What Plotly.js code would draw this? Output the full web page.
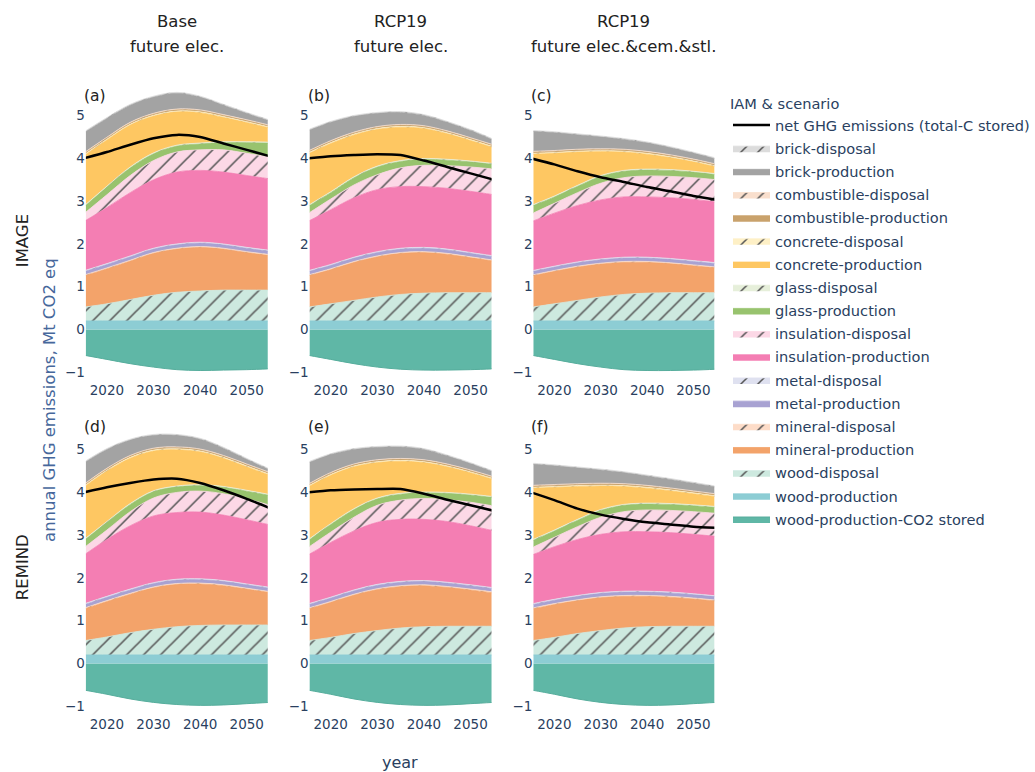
<!DOCTYPE html>
<html><head><meta charset="utf-8">
<script src="https://cdn.plot.ly/plotly-3.0.1.min.js"></script>
<style>body{margin:0;background:#fff}</style>
</head><body><div id="chart" style="width:1035px;height:772px"></div>
<script>
// ---------- DATA ----------
const years = [2015, 2020, 2025, 2030, 2035, 2040, 2045, 2050, 2055];
const panelLabels = ['(a)', '(b)', '(c)', '(d)', '(e)', '(f)'];
const scenarioLine1 = ['Base', 'RCP19', 'RCP19'];
const scenarioLine2 = ['future elec.', 'future elec.', 'future elec.&cem.&stl.'];
const iamNames = ['IMAGE', 'REMIND'];
const yTicks = [-1, 0, 1, 2, 3, 4, 5];
const xTicks = [2020, 2030, 2040, 2050];

// rows: panels (a)..(f); columns: years
const woodProductionCO2Stored = [
  [-0.6, -0.7, -0.8, -0.88, -0.94, -0.96, -0.95, -0.94, -0.92],
  [-0.6, -0.7, -0.8, -0.88, -0.93, -0.95, -0.95, -0.94, -0.92],
  [-0.6, -0.7, -0.8, -0.88, -0.94, -0.96, -0.96, -0.95, -0.93],
  [-0.62, -0.72, -0.83, -0.91, -0.96, -0.98, -0.97, -0.94, -0.91],
  [-0.62, -0.72, -0.83, -0.91, -0.96, -0.98, -0.97, -0.94, -0.91],
  [-0.62, -0.72, -0.83, -0.91, -0.96, -0.98, -0.97, -0.94, -0.91]];
const woodProduction = [
  [0.2, 0.2, 0.2, 0.2, 0.2, 0.2, 0.2, 0.2, 0.2],
  [0.2, 0.2, 0.2, 0.2, 0.2, 0.2, 0.2, 0.2, 0.2],
  [0.2, 0.2, 0.2, 0.2, 0.2, 0.2, 0.2, 0.2, 0.2],
  [0.2, 0.2, 0.2, 0.2, 0.2, 0.2, 0.2, 0.2, 0.2],
  [0.2, 0.2, 0.2, 0.2, 0.2, 0.2, 0.2, 0.2, 0.2],
  [0.2, 0.2, 0.2, 0.2, 0.2, 0.2, 0.2, 0.2, 0.2]];
const woodDisposal = [
  [0.32, 0.4, 0.5, 0.6, 0.67, 0.7, 0.72, 0.72, 0.72],
  [0.32, 0.4, 0.48, 0.56, 0.62, 0.65, 0.66, 0.66, 0.66],
  [0.32, 0.4, 0.48, 0.56, 0.62, 0.65, 0.66, 0.66, 0.66],
  [0.33, 0.42, 0.52, 0.6, 0.66, 0.69, 0.7, 0.7, 0.7],
  [0.33, 0.41, 0.5, 0.57, 0.63, 0.66, 0.67, 0.67, 0.67],
  [0.33, 0.41, 0.5, 0.57, 0.63, 0.66, 0.67, 0.67, 0.67]];
const mineralProduction = [
  [0.73, 0.82, 0.9, 0.98, 1.01, 1.02, 0.96, 0.88, 0.81],
  [0.73, 0.8, 0.89, 0.94, 0.96, 0.95, 0.9, 0.82, 0.74],
  [0.73, 0.76, 0.78, 0.77, 0.75, 0.72, 0.68, 0.63, 0.58],
  [0.74, 0.83, 0.9, 0.97, 0.99, 0.97, 0.92, 0.84, 0.76],
  [0.74, 0.82, 0.9, 0.96, 0.97, 0.96, 0.91, 0.85, 0.78],
  [0.74, 0.77, 0.77, 0.77, 0.74, 0.71, 0.68, 0.64, 0.59]];
const mineralDisposal = [
  [0.02, 0.02, 0.02, 0.02, 0.02, 0.02, 0.02, 0.02, 0.02],
  [0.02, 0.02, 0.02, 0.02, 0.02, 0.02, 0.02, 0.02, 0.02],
  [0.02, 0.02, 0.02, 0.02, 0.02, 0.02, 0.02, 0.02, 0.02],
  [0.02, 0.02, 0.02, 0.02, 0.02, 0.02, 0.02, 0.02, 0.02],
  [0.02, 0.02, 0.02, 0.02, 0.02, 0.02, 0.02, 0.02, 0.02],
  [0.02, 0.02, 0.02, 0.02, 0.02, 0.02, 0.02, 0.02, 0.02]];
const metalProduction = [
  [0.08, 0.08, 0.08, 0.08, 0.08, 0.08, 0.08, 0.08, 0.08],
  [0.08, 0.08, 0.08, 0.08, 0.08, 0.08, 0.08, 0.08, 0.08],
  [0.08, 0.08, 0.08, 0.08, 0.08, 0.08, 0.08, 0.08, 0.08],
  [0.08, 0.08, 0.08, 0.08, 0.08, 0.08, 0.08, 0.08, 0.08],
  [0.08, 0.08, 0.08, 0.08, 0.08, 0.08, 0.08, 0.08, 0.08],
  [0.08, 0.08, 0.08, 0.08, 0.08, 0.08, 0.08, 0.08, 0.08]];
const metalDisposal = [
  [0.02, 0.02, 0.02, 0.02, 0.02, 0.02, 0.02, 0.02, 0.02],
  [0.02, 0.02, 0.02, 0.02, 0.02, 0.02, 0.02, 0.02, 0.02],
  [0.02, 0.02, 0.02, 0.02, 0.02, 0.02, 0.02, 0.02, 0.02],
  [0.02, 0.02, 0.02, 0.02, 0.02, 0.02, 0.02, 0.02, 0.02],
  [0.02, 0.02, 0.02, 0.02, 0.02, 0.02, 0.02, 0.02, 0.02],
  [0.02, 0.02, 0.02, 0.02, 0.02, 0.02, 0.02, 0.02, 0.02]];
const insulationProduction = [
  [1.15, 1.31, 1.48, 1.6, 1.68, 1.68, 1.68, 1.68, 1.67],
  [1.15, 1.28, 1.39, 1.45, 1.44, 1.42, 1.42, 1.43, 1.43],
  [1.15, 1.24, 1.32, 1.38, 1.41, 1.41, 1.42, 1.43, 1.42],
  [1.14, 1.33, 1.48, 1.56, 1.56, 1.56, 1.53, 1.5, 1.46],
  [1.14, 1.28, 1.38, 1.45, 1.45, 1.43, 1.42, 1.38, 1.33],
  [1.14, 1.23, 1.31, 1.36, 1.39, 1.39, 1.39, 1.39, 1.39]];
const insulationDisposal = [
  [0.18, 0.3, 0.4, 0.45, 0.47, 0.48, 0.52, 0.52, 0.51],
  [0.18, 0.25, 0.3, 0.35, 0.44, 0.5, 0.53, 0.57, 0.6],
  [0.18, 0.23, 0.3, 0.39, 0.45, 0.49, 0.5, 0.51, 0.52],
  [0.17, 0.22, 0.33, 0.42, 0.47, 0.49, 0.5, 0.49, 0.46],
  [0.17, 0.24, 0.32, 0.4, 0.45, 0.49, 0.51, 0.55, 0.58],
  [0.17, 0.22, 0.3, 0.4, 0.47, 0.51, 0.52, 0.53, 0.54]];
const glassProduction = [
  [0.16, 0.18, 0.18, 0.16, 0.14, 0.14, 0.17, 0.25, 0.33],
  [0.17, 0.15, 0.17, 0.18, 0.15, 0.14, 0.13, 0.12, 0.11],
  [0.18, 0.15, 0.15, 0.16, 0.15, 0.14, 0.14, 0.13, 0.12],
  [0.17, 0.18, 0.17, 0.15, 0.13, 0.13, 0.15, 0.18, 0.23],
  [0.16, 0.18, 0.18, 0.15, 0.14, 0.13, 0.15, 0.17, 0.2],
  [0.16, 0.15, 0.15, 0.16, 0.15, 0.14, 0.14, 0.14, 0.14]];
const glassDisposal = [
  [0.02, 0.02, 0.02, 0.02, 0.02, 0.02, 0.02, 0.02, 0.02],
  [0.02, 0.02, 0.02, 0.02, 0.02, 0.02, 0.02, 0.02, 0.02],
  [0.02, 0.02, 0.02, 0.02, 0.02, 0.02, 0.02, 0.02, 0.02],
  [0.02, 0.02, 0.02, 0.02, 0.02, 0.02, 0.02, 0.02, 0.02],
  [0.02, 0.02, 0.02, 0.02, 0.02, 0.02, 0.02, 0.02, 0.02],
  [0.02, 0.02, 0.02, 0.02, 0.02, 0.02, 0.02, 0.02, 0.02]];
const concreteProduction = [
  [1.18, 1.08, 0.98, 0.86, 0.78, 0.71, 0.57, 0.45, 0.33],
  [1.21, 1.13, 0.98, 0.86, 0.78, 0.7, 0.6, 0.48, 0.37],
  [1.2, 1.0, 0.78, 0.56, 0.43, 0.35, 0.28, 0.22, 0.16],
  [1.23, 1.18, 1.06, 0.93, 0.85, 0.77, 0.66, 0.55, 0.45],
  [1.24, 1.13, 0.98, 0.83, 0.75, 0.69, 0.6, 0.5, 0.4],
  [1.22, 1.0, 0.77, 0.55, 0.42, 0.35, 0.3, 0.26, 0.23]];
const concreteDisposal = [
  [0.02, 0.02, 0.02, 0.02, 0.02, 0.02, 0.02, 0.02, 0.02],
  [0.02, 0.02, 0.02, 0.02, 0.02, 0.02, 0.02, 0.02, 0.02],
  [0.02, 0.02, 0.02, 0.02, 0.02, 0.02, 0.02, 0.02, 0.02],
  [0.02, 0.02, 0.02, 0.02, 0.02, 0.02, 0.02, 0.02, 0.02],
  [0.02, 0.02, 0.02, 0.02, 0.02, 0.02, 0.02, 0.02, 0.02],
  [0.02, 0.02, 0.02, 0.02, 0.02, 0.02, 0.02, 0.02, 0.02]];
const combustibleProduction = [
  [0.03, 0.03, 0.03, 0.03, 0.03, 0.03, 0.03, 0.03, 0.03],
  [0.03, 0.03, 0.03, 0.03, 0.03, 0.03, 0.03, 0.03, 0.03],
  [0.03, 0.03, 0.03, 0.03, 0.03, 0.03, 0.03, 0.03, 0.03],
  [0.03, 0.03, 0.03, 0.03, 0.03, 0.03, 0.03, 0.03, 0.03],
  [0.03, 0.03, 0.03, 0.03, 0.03, 0.03, 0.03, 0.03, 0.03],
  [0.03, 0.03, 0.03, 0.03, 0.03, 0.03, 0.03, 0.03, 0.03]];
const combustibleDisposal = [
  [0.015, 0.015, 0.015, 0.015, 0.015, 0.015, 0.015, 0.015, 0.015],
  [0.015, 0.015, 0.015, 0.015, 0.015, 0.015, 0.015, 0.015, 0.015],
  [0.015, 0.015, 0.015, 0.015, 0.015, 0.015, 0.015, 0.015, 0.015],
  [0.015, 0.015, 0.015, 0.015, 0.015, 0.015, 0.015, 0.015, 0.015],
  [0.015, 0.015, 0.015, 0.015, 0.015, 0.015, 0.015, 0.015, 0.015],
  [0.015, 0.015, 0.015, 0.015, 0.015, 0.015, 0.015, 0.015, 0.015]];
const brickProduction = [
  [0.47, 0.44, 0.4, 0.38, 0.37, 0.3, 0.22, 0.15, 0.1],
  [0.48, 0.43, 0.37, 0.31, 0.28, 0.24, 0.2, 0.17, 0.11],
  [0.47, 0.42, 0.34, 0.28, 0.23, 0.2, 0.17, 0.14, 0.12],
  [0.5, 0.44, 0.36, 0.3, 0.27, 0.23, 0.17, 0.11, 0.06],
  [0.5, 0.42, 0.34, 0.29, 0.27, 0.24, 0.19, 0.15, 0.11],
  [0.5, 0.44, 0.37, 0.31, 0.26, 0.22, 0.2, 0.18, 0.16]];
const brickDisposal = [
  [0.02, 0.02, 0.02, 0.02, 0.02, 0.02, 0.02, 0.02, 0.02],
  [0.02, 0.02, 0.02, 0.02, 0.02, 0.02, 0.02, 0.02, 0.02],
  [0.02, 0.02, 0.02, 0.02, 0.02, 0.02, 0.02, 0.02, 0.02],
  [0.02, 0.02, 0.02, 0.02, 0.02, 0.02, 0.02, 0.02, 0.02],
  [0.02, 0.02, 0.02, 0.02, 0.02, 0.02, 0.02, 0.02, 0.02],
  [0.02, 0.02, 0.02, 0.02, 0.02, 0.02, 0.02, 0.02, 0.02]];
const netGHG = [
  [4.0, 4.15, 4.32, 4.47, 4.55, 4.5, 4.35, 4.2, 4.05],
  [4.0, 4.05, 4.08, 4.1, 4.08, 3.95, 3.8, 3.65, 3.5],
  [4.0, 3.86, 3.7, 3.56, 3.45, 3.33, 3.23, 3.12, 3.03],
  [4.0, 4.12, 4.22, 4.3, 4.32, 4.22, 4.05, 3.85, 3.63],
  [4.0, 4.05, 4.07, 4.08, 4.08, 3.97, 3.83, 3.7, 3.57],
  [4.0, 3.82, 3.62, 3.48, 3.38, 3.3, 3.25, 3.2, 3.17]];

// ---------- STYLE ----------
const W = 1035, H = 772;
const FONT = 'DejaVu Sans, Verdana, sans-serif';
const TICKC = '#2a3f5f';
// stack order, bottom first
const stackSeries = [
  {name: 'wood-production', vals: woodProduction, color: '#8dcdd4', hatch: false, rank: 17},
  {name: 'wood-disposal', vals: woodDisposal, color: '#cde9df', hatch: true, rank: 16},
  {name: 'mineral-production', vals: mineralProduction, color: '#f3a36a', hatch: false, rank: 15},
  {name: 'mineral-disposal', vals: mineralDisposal, color: '#fddcc8', hatch: true, rank: 14},
  {name: 'metal-production', vals: metalProduction, color: '#a8a2d2', hatch: false, rank: 13},
  {name: 'metal-disposal', vals: metalDisposal, color: '#dfe1f0', hatch: true, rank: 12},
  {name: 'insulation-production', vals: insulationProduction, color: '#f47eb3', hatch: false, rank: 11},
  {name: 'insulation-disposal', vals: insulationDisposal, color: '#fcd8e6', hatch: true, rank: 10},
  {name: 'glass-production', vals: glassProduction, color: '#98c36e', hatch: false, rank: 9},
  {name: 'glass-disposal', vals: glassDisposal, color: '#e6efda', hatch: true, rank: 8},
  {name: 'concrete-production', vals: concreteProduction, color: '#fec762', hatch: false, rank: 7},
  {name: 'concrete-disposal', vals: concreteDisposal, color: '#fef0c6', hatch: true, rank: 6},
  {name: 'combustible-production', vals: combustibleProduction, color: '#c9a26c', hatch: false, rank: 5},
  {name: 'combustible-disposal', vals: combustibleDisposal, color: '#f9dfcd', hatch: true, rank: 4},
  {name: 'brick-production', vals: brickProduction, color: '#a3a3a3', hatch: false, rank: 3},
  {name: 'brick-disposal', vals: brickDisposal, color: '#dcdcdc', hatch: true, rank: 2}
];

// pixel layout of the subplot grid
const colPx = [[86, 268], [310, 492], [534, 715]];
const rowPx = [[90, 376.5], [424, 710.5]];
const px2x = p => p / W;
const px2y = p => 1 - p / H;

const traces = [];
const layout = {
  width: W, height: H, autosize: false,
  margin: {l: 0, r: 0, t: 0, b: 0},
  paper_bgcolor: '#fff', plot_bgcolor: '#fff',
  font: {family: FONT, size: 13.5, color: TICKC},
  showlegend: true,
  legend: {
    x: px2x(729), y: px2y(90), xanchor: 'left', yanchor: 'top',
    traceorder: 'grouped', tracegroupgap: 1.2, itemwidth: 37,
    font: {family: FONT, size: 14.6, color: TICKC},
    title: {text: 'IAM & scenario', font: {family: FONT, size: 14.6, color: TICKC}},
    bgcolor: 'rgba(0,0,0,0)'
  },
  annotations: []
};

for (let p = 0; p < 6; p++) {
  const r = Math.floor(p / 3), c = p % 3;
  const sfx = p === 0 ? '' : String(p + 1);
  const xa = 'x' + sfx, ya = 'y' + sfx;
  const first = p === 0;
  // negative stored carbon
  traces.push({
    type: 'scatter', mode: 'lines', x: years, y: woodProductionCO2Stored[p],
    xaxis: xa, yaxis: ya, stackgroup: 'neg' + p,
    name: 'wood-production-CO2 stored', legendgroup: 'wood-production-CO2 stored',
    showlegend: first, legendrank: 18,
    line: {color: '#56ad9c', width: 1, shape: 'spline', smoothing: 1},
    fillcolor: '#5fb7a6', hoverinfo: 'skip'
  });
  stackSeries.forEach(s => {
    const t = {
      type: 'scatter', mode: 'lines', x: years, y: s.vals[p],
      xaxis: xa, yaxis: ya, stackgroup: 'pos' + p,
      name: s.name, legendgroup: s.name, showlegend: first, legendrank: s.rank,
      line: {color: s.color, width: 0.8, shape: 'spline', smoothing: 1},
      fillcolor: s.color, hoverinfo: 'skip'
    };
    if (s.hatch) {
      t.fillpattern = {shape: '/', size: 12, solidity: 0.13, fgcolor: '#555555', bgcolor: s.color, fillmode: 'replace'};
    }
    traces.push(t);
  });
  traces.push({
    type: 'scatter', mode: 'lines', x: years, y: netGHG[p],
    xaxis: xa, yaxis: ya,
    name: 'net GHG emissions (total-C stored)', legendgroup: 'net',
    showlegend: first, legendrank: 1,
    line: {color: '#000', width: 2.5, shape: 'spline', smoothing: 0.6},
    hoverinfo: 'skip'
  });

  const axX = {
    domain: [px2x(colPx[c][0]), px2x(colPx[c][1])],
    range: [2015.5, 2054.5], tickvals: xTicks, ticktext: xTicks.map(String),
    showgrid: false, zeroline: false, showline: false, ticks: '',
    ticklabelstandoff: 4,
    tickfont: {family: FONT, size: 13.5, color: TICKC},
    anchor: ya, fixedrange: true
  };
  const axY = {
    domain: [px2y(rowPx[r][1]), px2y(rowPx[r][0])],
    range: [-1.1, 5.6], tickvals: yTicks,
    showgrid: false, zeroline: false, showline: false, ticks: '',
    tickfont: {family: FONT, size: 13.5, color: TICKC},
    anchor: xa, fixedrange: true
  };
  layout['xaxis' + sfx] = axX;
  layout['yaxis' + sfx] = axY;

  layout.annotations.push({
    text: panelLabels[p], xref: 'paper', yref: 'paper',
    x: px2x(colPx[c][0] - 4), y: px2y(rowPx[r][0] + (r === 0 ? 6 : 3)),
    xanchor: 'left', yanchor: 'middle', showarrow: false,
    font: {family: FONT, size: 15.5, color: '#222'}
  });
}

// column titles
for (let c = 0; c < 3; c++) {
  const cx = (colPx[c][0] + colPx[c][1]) / 2;
  layout.annotations.push({text: scenarioLine1[c], xref: 'paper', yref: 'paper',
    x: px2x(cx), y: px2y(22), xanchor: 'center', yanchor: 'middle', showarrow: false,
    font: {family: FONT, size: 16.5, color: '#222'}});
  layout.annotations.push({text: scenarioLine2[c], xref: 'paper', yref: 'paper',
    x: px2x(cx), y: px2y(47), xanchor: 'center', yanchor: 'middle', showarrow: false,
    font: {family: FONT, size: 16.5, color: '#222'}});
}
// row titles
for (let r = 0; r < 2; r++) {
  const cy = (rowPx[r][0] + rowPx[r][1]) / 2;
  layout.annotations.push({text: iamNames[r], xref: 'paper', yref: 'paper',
    x: px2x(22), y: px2y(cy + (r === 0 ? 7 : 0)), xanchor: 'center', yanchor: 'middle',
    textangle: -90, showarrow: false, font: {family: FONT, size: 16.5, color: '#222'}});
}
// axis titles
layout.annotations.push({text: 'annual GHG emissions, Mt CO2 eq', xref: 'paper', yref: 'paper',
  x: px2x(50), y: px2y(400), xanchor: 'center', yanchor: 'middle', textangle: -90,
  showarrow: false, font: {family: FONT, size: 16.5, color: '#46679b'}});
layout.annotations.push({text: 'year', xref: 'paper', yref: 'paper',
  x: px2x(400), y: px2y(762), xanchor: 'center', yanchor: 'middle',
  showarrow: false, font: {family: FONT, size: 16, color: TICKC}});

Plotly.newPlot('chart', traces, layout, {displayModeBar: false, staticPlot: true});
</script>
</body></html>
